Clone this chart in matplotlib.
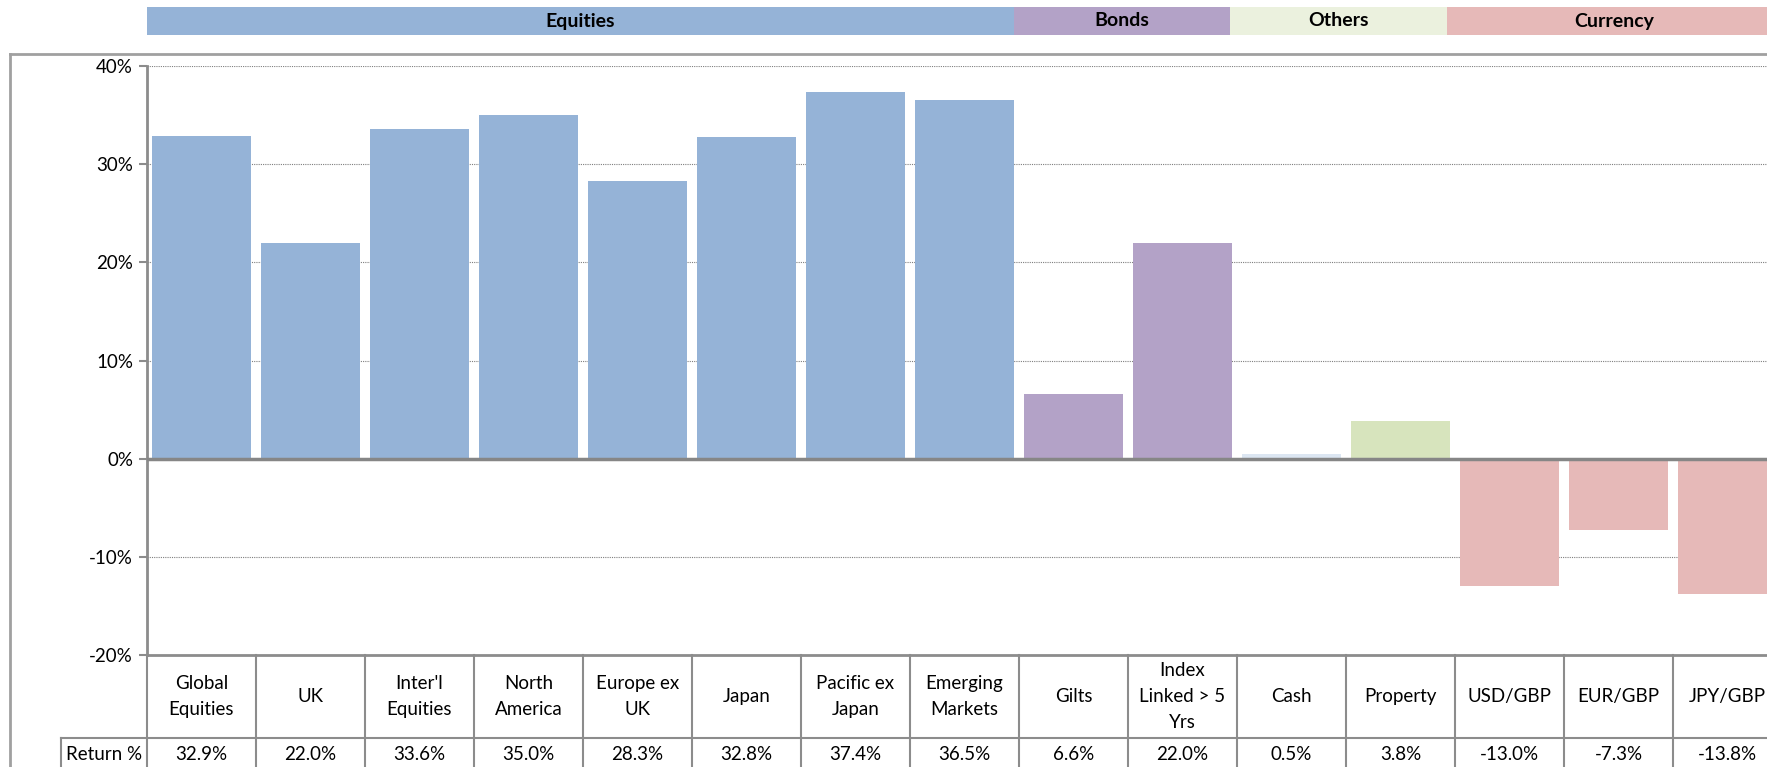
import numpy as np
import matplotlib.pyplot as plt
from matplotlib.patches import Rectangle
from matplotlib.transforms import blended_transform_factory
from matplotlib.ticker import FuncFormatter

plt.rcParams['font.family'] = ['Lato', 'DejaVu Sans']

# data
labels = ["Global\nEquities", "UK", "Inter'l\nEquities", "North\nAmerica", "Europe ex\nUK",
          "Japan", "Pacific ex\nJapan", "Emerging\nMarkets", "Gilts", "Index\nLinked > 5\nYrs",
          "Cash", "Property", "USD/GBP", "EUR/GBP", "JPY/GBP"]
returns = [32.9, 22.0, 33.6, 35.0, 28.3, 32.8, 37.4, 36.5, 6.6, 22.0, 0.5, 3.8, -13.0, -7.3, -13.8]
groups = ["Equities", "Bonds", "Others", "Currency"]
group_sizes = [8, 2, 2, 3]

bar_colors = ["#95B3D7"] * 8 + ["#B3A2C7"] * 2 + ["#DCE6F2", "#D7E4BD"] + ["#E6B9B8"] * 3
group_colors = ["#95B3D7", "#B3A2C7", "#EBF1DE", "#E6B9B8"]

W, H = 1767, 767
fig = plt.figure(figsize=(W / 100, H / 100), dpi=100)

def fy(py):
    return 1 - py / H

gray = "#8C8C8C"
x_left, x_right = 147, 147 + 15 * 109
y_top, y_bot = 66, 655
ax = fig.add_axes([x_left / W, fy(y_bot), (x_right - x_left) / W, (y_bot - y_top) / H])

x = np.arange(len(returns))
ax.bar(x, returns, width=0.91, color=bar_colors, zorder=2)
ax.set_xlim(-0.5, len(returns) - 0.5)
ax.set_ylim(-20, 40)
ax.set_yticks(np.arange(-20, 41, 10))
ax.yaxis.set_major_formatter(FuncFormatter(lambda v, p: f"{v:.0f}%"))
ax.tick_params(axis='y', labelsize=13.5, length=6, color=gray, width=1.5, pad=4)
ax.set_xticks([])
for yv in [-10, 10, 20, 30, 40]:
    ax.axhline(yv, color="#7F7F7F", lw=0.8, ls=(0, (1, 1)), zorder=1)
ax.axhline(0, color="#868686", lw=2.5, zorder=3)
for s in ["top", "right"]:
    ax.spines[s].set_visible(False)
ax.spines["left"].set_color(gray)
ax.spines["left"].set_linewidth(2)
ax.spines["bottom"].set_color(gray)
ax.spines["bottom"].set_linewidth(2)

tr = blended_transform_factory(ax.transData, fig.transFigure)

# group header bands (sheet cells slightly narrower than the chart columns)
edges = np.concatenate([[0], np.cumsum(group_sizes) * 0.994]) - 0.5
edges[-1] = len(returns) + 1
for g, c, a, b in zip(groups, group_colors, edges[:-1], edges[1:]):
    fig.add_artist(Rectangle((a, fy(35)), b - a, fy(7) - fy(35), transform=tr,
                             facecolor=c, edgecolor="none", clip_on=False))
    mid = (a + min(b, 14.5)) / 2
    fig.text(mid, (fy(35) + fy(7)) / 2, g, transform=tr, ha="center", va="center",
             fontsize=14, fontweight="bold")

# outer frame
fig.add_artist(plt.Line2D([10 / W, 10 / W], [fy(54), 0], color="#A0A0A0", lw=2))
fig.add_artist(plt.Line2D([10 / W, 1], [fy(54), fy(54)], color="#A0A0A0", lw=2))

# table below
y_row = 738
for i in range(len(returns) + 1):
    fig.add_artist(plt.Line2D([i - 0.5, i - 0.5], [fy(y_bot), 0], transform=tr, color=gray, lw=1.5))
fig.add_artist(plt.Line2D([61 / W, 1], [fy(y_row), fy(y_row)], color=gray, lw=1.5))
fig.add_artist(plt.Line2D([61 / W, 61 / W], [fy(y_row), 0], color=gray, lw=1.5))
for i, (lab, v) in enumerate(zip(labels, returns)):
    fig.text(i, (fy(y_bot) + fy(y_row)) / 2, lab, transform=tr, ha="center", va="center",
             fontsize=13.5, linespacing=1.62)
    fig.text(i, fy(754), f"{v:.1f}%", transform=tr, ha="center", va="center", fontsize=13.5)
fig.text((61 + 147) / 2 / W, fy(754), "Return %", ha="center", va="center", fontsize=13.5)

fig.savefig("out.png", dpi=100)
